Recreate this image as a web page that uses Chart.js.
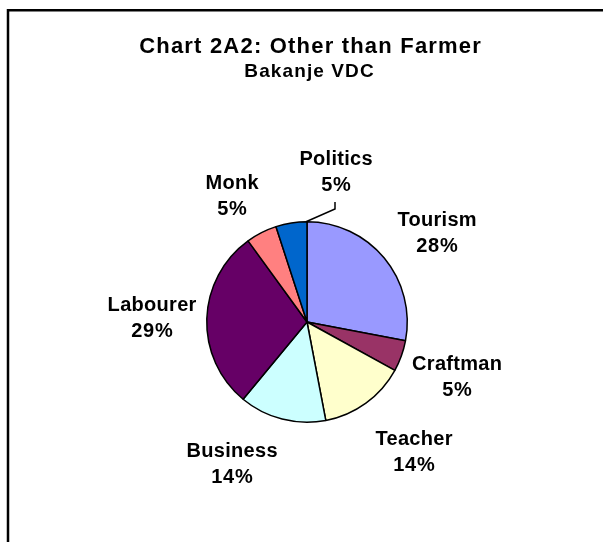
<!DOCTYPE html>
<html>
<head>
<meta charset="utf-8">
<script src="https://cdn.jsdelivr.net/npm/chart.js@4/dist/chart.umd.min.js"></script>
<style>
  html, body { margin: 0; padding: 0; background: #ffffff; }
  #c { display: block; }
</style>
</head>
<body>
<canvas id="c" width="603" height="542"></canvas>
<script>
// Occupations other than farming, Bakanje VDC (percent of respondents)
const categories = ['Tourism', 'Craftman', 'Teacher', 'Business', 'Labourer', 'Monk', 'Politics'];
const shares = [28, 5, 14, 14, 29, 5, 5];
const sliceColors = ['#9999FF', '#993366', '#FFFFCC', '#CCFFFF', '#660066', '#FF8080', '#0066CC'];
const titleText = 'Chart 2A2: Other than Farmer';
const subtitleText = 'Bakanje VDC';

// Where each two-line label sits: baseline of its first line, relative to the pie centre
const labelOffsets = [[130, -96], [150, 48], [107, 123], [-75, 135], [-155, -11], [-75, -133], [29, -157]];
const LINE_PITCH = 26;
const FONT = '"Liberation Sans", Arial, sans-serif';

function spacedText(ctx, text, x, y, spacing) {
  ctx.letterSpacing = spacing + 'px';
  ctx.fillText(text, x + spacing / 2, y);
  ctx.letterSpacing = '0px';
}

const decor = {
  id: 'decor',
  beforeDraw(chart) {
    const ctx = chart.ctx;
    ctx.save();
    ctx.fillStyle = '#ffffff';
    ctx.fillRect(0, 0, chart.width, chart.height);
    // chart frame (runs off the right and bottom edges)
    ctx.strokeStyle = '#000000';
    ctx.lineWidth = 2.5;
    ctx.strokeRect(8, 10.25, 800, 800);
    // titles
    ctx.fillStyle = '#000000';
    ctx.textAlign = 'center';
    ctx.textBaseline = 'alphabetic';
    ctx.font = 'bold 22px ' + FONT;
    spacedText(ctx, titleText, 310, 52.5, 1.2);
    ctx.font = 'bold 19px ' + FONT;
    spacedText(ctx, subtitleText, 309, 76.5, 1.1);
    ctx.restore();
  },
  afterDatasetsDraw(chart) {
    const ctx = chart.ctx;
    const meta = chart.getDatasetMeta(0);
    const data = chart.data.datasets[0].data;
    const total = data.reduce((a, b) => a + b, 0);
    ctx.save();
    ctx.fillStyle = '#000000';
    ctx.textAlign = 'center';
    ctx.textBaseline = 'alphabetic';
    ctx.font = 'bold 20px ' + FONT;
    meta.data.forEach((arc, i) => {
      const cx = arc.x + labelOffsets[i][0];
      const cy = arc.y + labelOffsets[i][1];
      const pct = Math.round(data[i] / total * 100) + '%';
      spacedText(ctx, chart.data.labels[i], cx, cy, 0.3);
      spacedText(ctx, pct, cx, cy + LINE_PITCH, 0.8);
    });
    // leader line for the Politics label
    const last = meta.data[meta.data.length - 1];
    const a = last.endAngle - 0.01;
    ctx.strokeStyle = '#000000';
    ctx.lineWidth = 1.5;
    ctx.beginPath();
    ctx.moveTo(last.x + last.outerRadius * Math.cos(a), last.y + last.outerRadius * Math.sin(a));
    ctx.lineTo(last.x + 28, last.y - 113);
    ctx.lineTo(last.x + 28, last.y - 120);
    ctx.stroke();
    ctx.restore();
  }
};

new Chart(document.getElementById('c'), {
  type: 'pie',
  data: {
    labels: categories,
    datasets: [{
      data: shares,
      backgroundColor: sliceColors,
      borderColor: '#000000',
      borderWidth: 1.5
    }]
  },
  options: {
    responsive: false,
    animation: false,
    events: [],
    layout: { padding: { left: 206, top: 221, right: 195, bottom: 119 } },
    plugins: {
      legend: { display: false },
      title: { display: false },
      tooltip: { enabled: false }
    }
  },
  plugins: [decor]
});
</script>
</body>
</html>
